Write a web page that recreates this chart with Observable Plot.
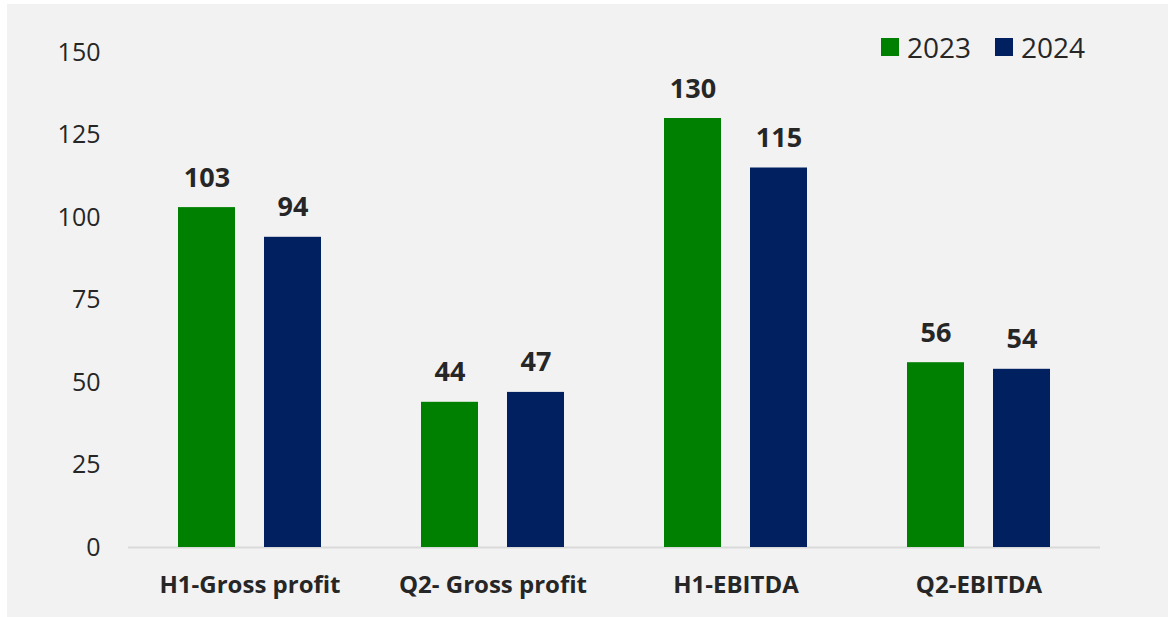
<!DOCTYPE html>
<html>
<head>
<meta charset="utf-8">
<script src="https://cdn.jsdelivr.net/npm/d3@7"></script>
<script src="https://cdn.jsdelivr.net/npm/@observablehq/plot@0.6"></script>
<style>
  html, body { margin: 0; padding: 0; background: #ffffff; }
  #wrap { position: relative; width: 1168px; height: 617px; overflow: hidden; font-family: "Open Sans", sans-serif; color: #262626; }
  #panel { position: absolute; left: 7px; top: 4px; width: 1161px; height: 613px; background: #f2f2f2; }
  #chart { position: absolute; left: 0; top: 0; }
  #legend { position: absolute; left: 881px; top: 28px; display: flex; align-items: center; font-size: 28px; color: #262626; }
  #legend .item { display: flex; align-items: center; margin-right: 24px; }
  #legend .sw { width: 18px; height: 18px; margin-right: 8px; }
</style>
</head>
<body>
<div id="wrap">
  <div id="panel"></div>
  <div id="chart"></div>
  <div id="legend"></div>
</div>
<script>
const categories = ["H1-Gross profit", "Q2- Gross profit", "H1-EBITDA", "Q2-EBITDA"];
const years = ["2023", "2024"];
const values2023 = [103, 44, 130, 56];
const values2024 = [94, 47, 115, 54];
const colors = ["#008000", "#002060"];
const yTicks = [0, 25, 50, 75, 100, 125, 150];

const data = [];
categories.forEach((c, i) => {
  data.push({category: c, year: years[0], value: values2023[i]});
  data.push({category: c, year: years[1], value: values2024[i]});
});

const chart = Plot.plot({
  width: 1168,
  height: 617,
  marginLeft: 127,
  marginRight: 68,
  marginTop: 52,
  marginBottom: 70,
  style: { background: "transparent", color: "#262626", fontFamily: "Open Sans, sans-serif", overflow: "visible" },
  fx: { domain: categories, padding: 0, axis: null },
  x: { domain: years, paddingInner: 0.337, paddingOuter: 0.581, axis: null },
  y: { domain: [0, 150], axis: null },
  color: { domain: years, range: colors },
  marks: [
    Plot.ruleY([0], { stroke: "#d9d9d9", strokeWidth: 2 }),
    Plot.barY(data, { fx: "category", x: "year", y: "value", fill: "year" }),
    Plot.text(data, { fx: "category", x: "year", y: "value", text: d => String(d.value), lineAnchor: "bottom", dy: -21, fontSize: 27, fontWeight: "bold", fill: "#262626" }),
    Plot.axisY({ ticks: yTicks, tickSize: 0, tickPadding: 28, fontSize: 25, fill: "#262626", label: null }),
    Plot.axisFx({ anchor: "bottom", tickSize: 0, tickPadding: 28, fontSize: 24, fontWeight: "bold", fill: "#262626", label: null })
  ]
});
document.getElementById("chart").appendChild(chart);

const legend = document.getElementById("legend");
years.forEach((y, i) => {
  const item = document.createElement("div");
  item.className = "item";
  const sw = document.createElement("div");
  sw.className = "sw";
  sw.style.background = colors[i];
  const t = document.createElement("span");
  t.textContent = y;
  item.appendChild(sw);
  item.appendChild(t);
  legend.appendChild(item);
});
</script>
</body>
</html>
